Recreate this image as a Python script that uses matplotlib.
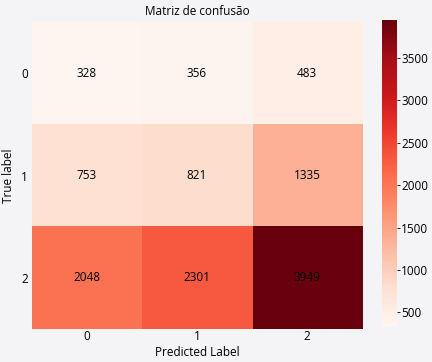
import numpy as np
import matplotlib
matplotlib.use("Agg")
import matplotlib.pyplot as plt

# confusion matrix values
labels = ["0", "1", "2"]
cm = np.array([
    [328, 356, 483],
    [753, 821, 1335],
    [2048, 2301, 3949],
])
cbar_ticks = [500, 1000, 1500, 2000, 2500, 3000, 3500]

plt.rcParams["font.family"] = ["Open Sans", "DejaVu Sans"]
bg = "#f4f3f5"

fig = plt.figure(figsize=(4.32, 3.62), dpi=100, facecolor=bg)
ax = fig.add_axes([0.074, 0.091, 0.764, 0.848])
cax = fig.add_axes([0.884, 0.097, 0.035, 0.848])

im = ax.imshow(cm, cmap="Reds", aspect="auto", vmin=cm.min(), vmax=cm.max())

# annotate cells
for i in range(cm.shape[0]):
    for j in range(cm.shape[1]):
        ax.text(j, i, str(cm[i, j]), ha="center", va="center", fontsize=8.5, color="black")

ax.set_xticks(range(len(labels)))
ax.set_xticklabels(labels)
ax.set_yticks(range(len(labels)))
ax.set_yticklabels(labels, rotation=0)
ax.tick_params(axis="x", length=0, labelsize=8.5, pad=1)
ax.tick_params(axis="y", length=0, labelsize=8.5, pad=3)
for s in ax.spines.values():
    s.set_visible(False)

ax.set_xlabel("Predicted Label", fontsize=8.5, labelpad=2)
ax.set_ylabel("True label", fontsize=8.5, labelpad=4)
ax.set_title("Matriz de confusão", fontsize=8.5, pad=5)

cb = fig.colorbar(im, cax=cax)
cb.set_ticks(cbar_ticks)
cb.outline.set_visible(False)
cb.ax.tick_params(labelsize=8.5, length=2, width=0.6, pad=1)

fig.savefig("out.png", dpi=100, facecolor=bg)
